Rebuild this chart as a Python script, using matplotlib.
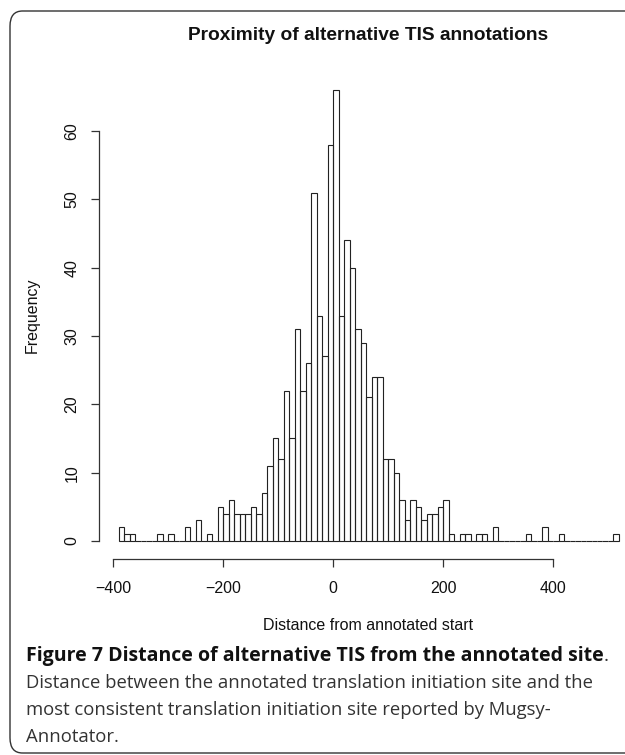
import matplotlib.pyplot as plt
import numpy as np
from matplotlib.patches import FancyBboxPatch

# histogram counts, 10-wide bins starting at -390
bin_start = -390
bin_width = 10
counts = [2, 1, 1, 0, 0, 0, 0, 1, 0, 1,        # -390 .. -300
          0, 0, 2, 0, 3, 0, 1, 0, 5, 4,        # -290 .. -200
          6, 4, 4, 4, 5, 4, 7, 11, 15, 12,     # -190 .. -100
          22, 15, 31, 22, 26, 51, 33, 27, 58, 66,  # -90 .. 0
          33, 44, 40, 31, 29, 21, 24, 24, 12, 12,  # 10 .. 100
          10, 6, 3, 6, 5, 3, 4, 4, 5, 6,       # 110 .. 200
          1, 0, 1, 1, 0, 1, 1, 0, 2, 0,        # 210 .. 300
          0, 0, 0, 0, 1, 0, 0, 2, 0, 0,        # 310 .. 400
          1, 0, 0, 0, 0, 0, 0, 0, 0, 0, 1]     # 410 .. 510

x_ticks = [-400, -200, 0, 200, 400]
y_ticks = [0, 10, 20, 30, 40, 50, 60]

title = "Proximity of alternative TIS annotations"
xlabel = "Distance from annotated start"
ylabel = "Frequency"
cap_bold = "Figure 7 Distance of alternative TIS from the annotated site"
cap_lines = ["Distance between the annotated translation initiation site and the",
             "most consistent translation initiation site reported by Mugsy-",
             "Annotator."]

plt.rcParams['font.family'] = ['Liberation Sans', 'DejaVu Sans']

W, H = 625, 755
fig = plt.figure(figsize=(W / 100, H / 100), dpi=100)


def fx(px):
    return px / W


def fy(py):
    return 1 - py / H


counts = np.array(counts)
lefts = bin_start + bin_width * np.arange(len(counts))

# R style padded limits
x0, x1 = lefts[0], lefts[-1] + bin_width
pad = 0.04 * (x1 - x0)
xlim = (x0 - pad, x1 + pad)
ylim = (-0.04 * counts.max(), counts.max() * 1.04)

base = 11.5

ax = fig.add_axes([fx(98.7), fy(559), fx(639) - fx(98.7), fy(72) - fy(559)])
ax.bar(lefts, counts, width=bin_width, align='edge', fill=False,
       edgecolor='#222222', linewidth=0.8)
ax.set_xlim(xlim)
ax.set_ylim(ylim)

for s in ['top', 'right']:
    ax.spines[s].set_visible(False)
ax.spines['left'].set_bounds(0, 60)
ax.spines['bottom'].set_bounds(-400, 400)
for s in ['left', 'bottom']:
    ax.spines[s].set_color('#333333')
    ax.spines[s].set_linewidth(0.9)

ax.set_xticks(x_ticks)
ax.set_xticklabels(["\u2212400", "\u2212200", "0", "200", "400"])
ax.set_yticks(y_ticks)
ax.set_yticklabels([str(v) for v in y_ticks], rotation=90, va='center')
ax.tick_params(direction='out', length=6, width=0.9, color='#333333',
               labelsize=base, labelcolor='#111111')
ax.tick_params(axis='x', pad=10)
ax.tick_params(axis='y', pad=8)

fig.text(fx(368), fy(36), title, ha='center', va='center',
         fontsize=base * 1.2, fontweight='bold', color='#111111')
fig.text(fx(368), fy(626), xlabel, ha='center', va='center',
         fontsize=base, color='#111111')
fig.text(fx(32), fy(315), ylabel, ha='center', va='center',
         rotation=90, fontsize=base, color='#111111')

cap_font = ['Open Sans', 'DejaVu Sans']
t = fig.text(fx(26), fy(656), cap_bold, ha='left', va='center',
             fontsize=14, fontweight='bold', family=cap_font, color='#111111')
fig.canvas.draw()
bb = t.get_window_extent()
fig.text(bb.x1 / W, fy(656), ".", ha='left', va='center',
         fontsize=14, family=cap_font, color='#333333')
for i, line in enumerate(cap_lines):
    fig.text(fx(26), fy(683 + 27 * i), line, ha='left', va='center',
             fontsize=13.3, family=cap_font, color='#333333')

frame = FancyBboxPatch((fx(10), fy(753)), fx(640) - fx(10), fy(11) - fy(753),
                       boxstyle="round,pad=0,rounding_size=0.02",
                       transform=fig.transFigure, fill=False,
                       edgecolor='#333333', linewidth=1.0)
fig.patches.append(frame)

fig.savefig("out.png", dpi=100)
